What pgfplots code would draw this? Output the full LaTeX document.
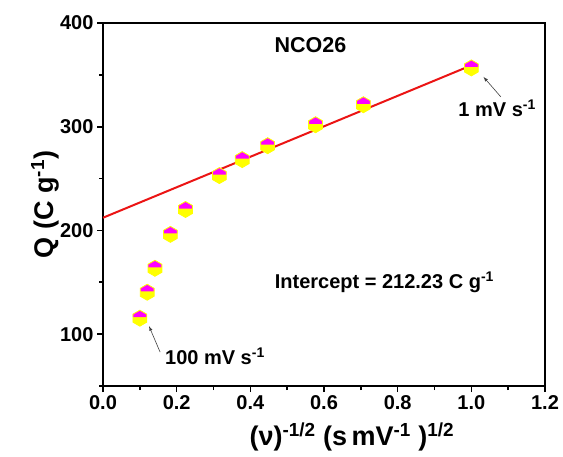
\documentclass[border=0pt]{standalone}
\usepackage{fontspec}
\setmainfont{Liberation Sans}
\usepackage{pgfplots}
\pgfplotsset{compat=1.18}
\definecolor{mag}{RGB}{255,0,255}
\definecolor{yel}{RGB}{255,255,0}
\definecolor{lred}{RGB}{235,20,20}
\pgfdeclareplotmark{hexmark}{%
  \pgfpathmoveto{\pgfpointpolar{90}{\pgfplotmarksize}}%
  \pgfpathlineto{\pgfpointpolar{150}{\pgfplotmarksize}}%
  \pgfpathlineto{\pgfpointpolar{210}{\pgfplotmarksize}}%
  \pgfpathlineto{\pgfpointpolar{270}{\pgfplotmarksize}}%
  \pgfpathlineto{\pgfpointpolar{330}{\pgfplotmarksize}}%
  \pgfpathlineto{\pgfpointpolar{30}{\pgfplotmarksize}}%
  \pgfpathclose
  \pgfsetfillcolor{yel}%
  \pgfusepath{fill}%
  \pgfpathmoveto{\pgfpoint{-0.866\pgfplotmarksize}{0.12\pgfplotmarksize}}%
  \pgfpathlineto{\pgfpointpolar{150}{\pgfplotmarksize}}%
  \pgfpathlineto{\pgfpointpolar{90}{\pgfplotmarksize}}%
  \pgfpathlineto{\pgfpointpolar{30}{\pgfplotmarksize}}%
  \pgfpathlineto{\pgfpoint{0.866\pgfplotmarksize}{0.12\pgfplotmarksize}}%
  \pgfpathclose
  \pgfsetfillcolor{mag}%
  \pgfusepath{fill}%
  \pgfpathmoveto{\pgfpointpolar{90}{\pgfplotmarksize}}%
  \pgfpathlineto{\pgfpointpolar{150}{\pgfplotmarksize}}%
  \pgfpathlineto{\pgfpointpolar{210}{\pgfplotmarksize}}%
  \pgfpathlineto{\pgfpointpolar{270}{\pgfplotmarksize}}%
  \pgfpathlineto{\pgfpointpolar{330}{\pgfplotmarksize}}%
  \pgfpathlineto{\pgfpointpolar{30}{\pgfplotmarksize}}%
  \pgfpathclose
  \pgfsetlinewidth{0.8pt}\pgfsetstrokecolor{yel}%
  \pgfusepath{stroke}%
}
\begin{document}
\begin{tikzpicture}
\begin{axis}[
  name=main,
  scale only axis,
  width=442pt, height=363pt,
  xmin=0, xmax=1.2, ymin=50, ymax=400,
  xtick={0,0.2,...,1.2}, ytick={100,200,300,400},
  minor xtick={0.1,0.3,...,1.1}, minor ytick={50,150,250,350},
  xtick pos=bottom, ytick pos=left,
  tick align=outside,
  major tick length=6pt, minor tick length=4pt,
  every tick/.style={black, line width=1.6pt},
  axis line style={line width=2pt},
  /pgf/number format/assume math mode=true,
  xticklabel style={/pgf/number format/.cd, fixed, fixed zerofill, precision=1},
  yticklabel style={/pgf/number format/.cd, fixed, precision=0},
  ticklabel style={font=\bfseries\fontsize{20}{22}\selectfont},
  xlabel={(ν)\textsuperscript{-1/2} (s\,mV\textsuperscript{-1} )\textsuperscript{1/2}},
  ylabel={Q (C g\textsuperscript{-1})},
  every axis x label/.style={at={(axis description cs:0.563,-0.14)}, anchor=center, font=\bfseries\fontsize{27}{29}\selectfont},
  every axis y label/.style={at={(axis description cs:-0.131,0.5)}, rotate=90, anchor=center, font=\bfseries\fontsize{27}{29}\selectfont},
  clip=false,
]
\addplot[only marks, mark=hexmark, mark size=8pt] coordinates {
(0.100,115.4) (0.120,140.4) (0.141,163.5) (0.183,196.2) (0.224,220.2)
(0.316,252.9) (0.378,268.3) (0.447,281.7) (0.577,301.9) (0.707,321.2) (1.000,356.7)
};
\addplot[lred, line width=2pt] coordinates {(0,212.23) (0.99,357.7)};
\node[font=\bfseries\fontsize{21.5}{24}\selectfont] at (axis cs:0.563,379) {NCO26};
\node[font=\bfseries\fontsize{20}{22}\selectfont] at (axis cs:1.07,318) {1 mV s\textsuperscript{-1}};
\node[font=\bfseries\fontsize{20}{22}\selectfont] at (axis cs:0.304,78.8) {100 mV s\textsuperscript{-1}};
\node[font=\bfseries\fontsize{20}{22}\selectfont] at (axis cs:0.764,150) {Intercept = 212.23 C g\textsuperscript{-1}};
\draw[-latex, line width=0.6pt, black!75] (axis cs:1.08,328.8) -- (axis cs:1.033,348);
\draw[-latex, line width=0.6pt, black!75] (axis cs:0.155,82.7) -- (axis cs:0.125,107.7);
\end{axis}
\path[use as bounding box] ([shift={(-103pt,-70pt)}]main.south west) rectangle ([shift={(18pt,23pt)}]main.north east);
\end{tikzpicture}
\end{document}
